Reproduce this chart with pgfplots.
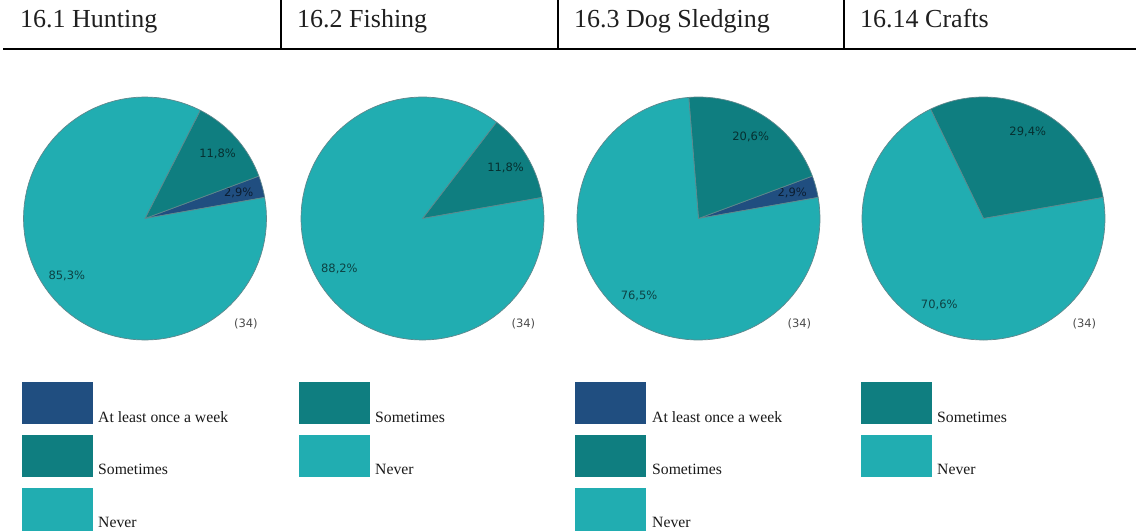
\documentclass[border=0pt]{standalone}
\usepackage{fontspec}
\setmainfont{Liberation Serif}
\newfontfamily\labelfamily{DejaVu Sans}
\usepackage{pgfplots}
\pgfplotsset{compat=1.18}

\definecolor{weekcol}{RGB}{32,78,128}
\definecolor{somecol}{RGB}{15,126,128}
\definecolor{nevercol}{RGB}{33,173,177}
\definecolor{pieedge}{RGB}{95,135,140}

\newcommand{\headfont}{\rmfamily\fontsize{26}{30}\selectfont}
\newcommand{\legfont}{\rmfamily\fontsize{15.7}{18}\selectfont}
\newcommand{\pctfont}{\labelfamily\fontsize{11.5}{13}\selectfont}

% a pie starts at the given angle and runs counter-clockwise
\newcommand{\piestart}[1]{\xdef\curangle{#1}}
% one wedge: share in percent, colour, label
\newcommand{\slice}[3]{%
  \pgfmathsetmacro\sA{\curangle}%
  \pgfmathsetmacro\sB{\curangle+3.6*#1}%
  \pgfmathsetmacro\sM{(\sA+\sB)/2}%
  \xdef\curangle{\sB}%
  \edef\doslice{%
    \noexpand\addplot[fill=#2, draw=pieedge, line width=0.7pt,
      domain=\sA:\sB, samples=90, line join=round]
      ({cos(x)},{sin(x)}) -- (axis cs:0,0) -- cycle;
    \noexpand\node[pct] at (axis cs:{0.8*cos(\sM)},{0.8*sin(\sM)}) {#3};
  }%
  \doslice
}

\pgfplotsset{
  pie/.style={
    anchor=center, scale only axis, width=243pt, height=243pt,
    xmin=-1, xmax=1, ymin=-1, ymax=1, hide axis, clip=false,
  },
}
\tikzset{
  pct/.style={font=\pctfont, text=black, text opacity=0.62, inner sep=0pt},
  nlab/.style={font=\labelfamily\fontsize{11.5}{13}\selectfont, text=black!70, inner sep=0pt},
  leg/.style={anchor=base west, font=\legfont, inner sep=0pt, text=black!90},
  head/.style={anchor=base west, font=\headfont, inner sep=0pt, text=black!88},
}

\begin{document}
\begin{tikzpicture}[x=1pt, y=1pt]
\path[use as bounding box] (0,0) rectangle (1136,-531);

% header row
\node[head] at (20,-27) {16.1 Hunting};
\node[head] at (297,-27) {16.2 Fishing};
\node[head] at (574,-27) {16.3 Dog Sledging};
\node[head] at (860,-27) {16.14 Crafts};
\draw[line width=2pt] (3,-48.5) -- (1136,-48.5);
\foreach \xx in {281,558,844} \draw[line width=2pt] (\xx,0) -- (\xx,-48.5);

% 16.1 Hunting
\begin{axis}[pie, at={(145pt,-218.5pt)}]
  \piestart{10}
  \slice{2.9}{weekcol}{2,9\%}
  \slice{11.8}{somecol}{11,8\%}
  \slice{85.3}{nevercol}{85,3\%}
  \node[nlab] at (axis cs:0.83,-0.87) {(34)};
\end{axis}

% 16.2 Fishing
\begin{axis}[pie, at={(422.5pt,-218.5pt)}]
  \piestart{10}
  \slice{11.8}{somecol}{11,8\%}
  \slice{88.2}{nevercol}{88,2\%}
  \node[nlab] at (axis cs:0.83,-0.87) {(34)};
\end{axis}

% 16.3 Dog Sledging
\begin{axis}[pie, at={(698.5pt,-218.5pt)}]
  \piestart{10}
  \slice{2.9}{weekcol}{2,9\%}
  \slice{20.6}{somecol}{20,6\%}
  \slice{76.5}{nevercol}{76,5\%}
  \node[nlab] at (axis cs:0.83,-0.87) {(34)};
\end{axis}

% 16.14 Crafts
\begin{axis}[pie, at={(983.5pt,-218.5pt)}]
  \piestart{10}
  \slice{29.4}{somecol}{29,4\%}
  \slice{70.6}{nevercol}{70,6\%}
  \node[nlab] at (axis cs:0.83,-0.87) {(34)};
\end{axis}

% legends
\fill[weekcol]  (22,-382) rectangle (93,-424);
\node[leg] at (98,-422) {At least once a week};
\fill[somecol]  (22,-435) rectangle (93,-477);
\node[leg] at (98,-474) {Sometimes};
\fill[nevercol] (22,-488) rectangle (93,-531);
\node[leg] at (98,-527) {Never};

\fill[somecol]  (299,-382) rectangle (370,-424);
\node[leg] at (375,-422) {Sometimes};
\fill[nevercol] (299,-435) rectangle (370,-477);
\node[leg] at (375,-474) {Never};

\fill[weekcol]  (575,-382) rectangle (646,-424);
\node[leg] at (652,-422) {At least once a week};
\fill[somecol]  (575,-435) rectangle (646,-477);
\node[leg] at (652,-474) {Sometimes};
\fill[nevercol] (575,-488) rectangle (646,-531);
\node[leg] at (652,-527) {Never};

\fill[somecol]  (861,-382) rectangle (932,-424);
\node[leg] at (937,-422) {Sometimes};
\fill[nevercol] (861,-435) rectangle (932,-477);
\node[leg] at (937,-474) {Never};
\end{tikzpicture}
\end{document}
